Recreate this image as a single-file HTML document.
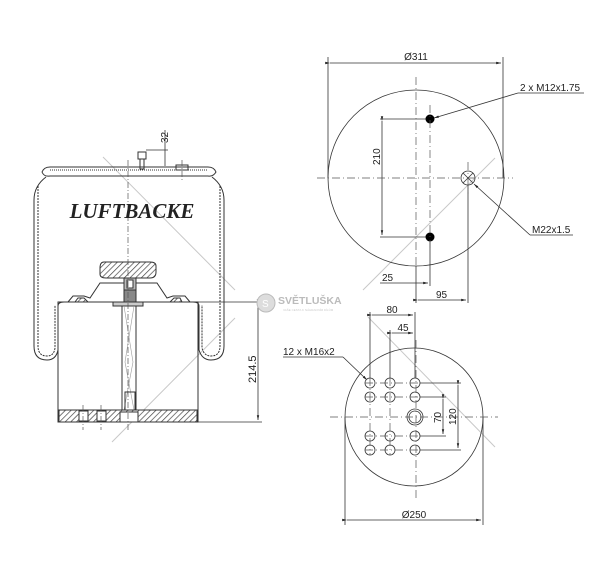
<!DOCTYPE html>
<html><head><meta charset="utf-8"><style>
html,body{margin:0;padding:0;background:#fff;}
svg{display:block;}
text{font-family:"Liberation Sans",sans-serif;fill:#222;}
</style></head><body>
<svg width="600" height="576" viewBox="0 0 600 576" xmlns="http://www.w3.org/2000/svg">
<defs>
<pattern id="h" width="4" height="4" patternUnits="userSpaceOnUse" patternTransform="rotate(45)">
<rect width="4" height="4" fill="#fff"/><line x1="0" y1="0" x2="0" y2="4" stroke="#444" stroke-width="1.4"/></pattern>
<marker id="a" markerWidth="6" markerHeight="6" refX="6" refY="3" orient="auto"><path d="M0,1.5 L6,3 L0,4.5z" fill="#222"/></marker>
</defs>
<!-- gray diagonals -->
<g stroke="#c8c8c8" stroke-width="1">
<line x1="103" y1="157" x2="235" y2="290"/><line x1="235" y1="318" x2="112" y2="442"/>
<line x1="363" y1="290" x2="495" y2="158"/><line x1="368" y1="317" x2="495" y2="447"/>
</g>
<!-- LEFT DRAWING -->
<g fill="none" stroke="#333" stroke-width="1">
<!-- top plate -->
<path d="M42,172 Q44,167 50,167 L208,167 Q214,167 216,172 Q213,177 208,176 L50,176 Q44,177 42,172z"/>
<line x1="50" y1="170" x2="208" y2="170" stroke-dasharray="1 1"/>
<!-- stud -->
<rect x="138" y="152" width="8" height="7"/><rect x="140" y="159" width="4" height="10"/>
<rect x="176" y="165" width="12" height="5"/>
<!-- bellows -->
<path d="M46,177 Q34,186 34,200 L34,346 Q34,360 47,360 Q56,360 58,350 L58,306 Q58,302 64,302 L75,302"/>
<path d="M38,186 L38,346 Q38,356 47,356 Q54,356 55,348 L55,305" stroke-dasharray="2 1"/>
<path d="M212,177 Q224,186 224,200 L224,346 Q224,360 211,360 Q202,360 199,350 L199,306 Q199,302 193,302 L182,302"/>
<path d="M220,186 L220,346 Q220,356 211,356 Q204,356 202,348 L202,305" stroke-dasharray="2 1"/>
<!-- piston -->
<rect x="58" y="302" width="140" height="120"/>
<path d="M68,302 L73,296 L84,296 L90,298 L100,283 L157,283 L167,298 L173,296 L185,296 L190,302"/>
<path d="M75,302 L78,298 L84,298 L88,302z M182,302 L180,298 L174,298 L170,302z" fill="url(#h)"/>
<path d="M104,262 Q100,262 100,268 L100,274 Q100,278 106,278 L150,278 Q156,278 156,272 L156,266 Q156,262 150,262z" fill="url(#h)"/>
<rect x="124" y="278" width="12" height="12" fill="#bbb"/><rect x="127" y="280" width="6" height="8" fill="#fff"/>
<rect x="124" y="290" width="12" height="14" fill="#888"/>
<rect x="113" y="302" width="30" height="4" fill="#ccc"/>
<line x1="122" y1="306" x2="122" y2="412"/><line x1="136" y1="306" x2="136" y2="412"/>
<path d="M124,306 L133,362 L124,410 M134,306 L125,362 L134,410" stroke="#999" stroke-width="0.6"/>
<rect x="125" y="392" width="10" height="18"/>
<rect x="59" y="410" width="138" height="12" fill="url(#h)"/>
<rect x="79" y="411" width="9" height="10" fill="#fff"/><rect x="97" y="411" width="9" height="10" fill="#fff"/>
<rect x="120" y="412" width="18" height="10" fill="#fff"/>
</g>
<g stroke="#555" stroke-width="0.7" stroke-dasharray="6 2 1 2" fill="none">
<line x1="128" y1="160" x2="128" y2="432"/><line x1="182" y1="160" x2="182" y2="180"/>
<line x1="83" y1="405" x2="83" y2="430"/><line x1="101" y1="405" x2="101" y2="430"/>
</g>
<text x="132" y="218" font-family="Liberation Serif,serif" font-weight="bold" font-style="italic" font-size="21" text-anchor="middle" style="font-family:'Liberation Serif',serif" fill="#111">LUFTBACKE</text>
<!-- dims left -->
<g stroke="#333" stroke-width="0.8" fill="none">
<line x1="146" y1="150" x2="168" y2="150"/><line x1="165" y1="130" x2="165" y2="166" />
<line x1="198" y1="302" x2="262" y2="302"/><line x1="198" y1="422" x2="262" y2="422"/>
<line x1="258" y1="304" x2="258" y2="420" marker-start="url(#a)" marker-end="url(#a)"/>
</g>
<text transform="translate(168,143) rotate(-90)" font-size="10">32</text>
<text transform="translate(256,383) rotate(-90)" font-size="11">214.5</text>
<!-- logo -->
<circle cx="266" cy="303" r="9" fill="#ddd" stroke="#bbb"/>
<text x="262" y="307" font-size="10" fill="#fff" style="fill:#fff">S</text>
<text x="278" y="304" font-size="10.5" font-weight="bold" fill="#bbb" style="fill:#bbb">SVĚTLUŠKA</text>
<text x="283" y="311" font-size="3" style="fill:#ccc">VAŠE CESTA K NÁHRADNÍM DÍLŮM</text>
<!-- TOP CIRCLE -->
<g stroke="#333" stroke-width="0.8" fill="none">
<circle cx="416" cy="178" r="88"/>
<line x1="328" y1="57" x2="328" y2="178"/><line x1="503" y1="57" x2="503" y2="178"/>
<line x1="330" y1="63" x2="501" y2="63" marker-start="url(#a)" marker-end="url(#a)"/>
<line x1="380" y1="119" x2="434" y2="119"/><line x1="380" y1="237" x2="434" y2="237"/>
<line x1="382" y1="121" x2="382" y2="235" marker-start="url(#a)" marker-end="url(#a)"/>
<circle cx="468" cy="178" r="7"/><line x1="463" y1="173" x2="473" y2="183"/><line x1="473" y1="173" x2="463" y2="183"/>
<line x1="430" y1="237" x2="430" y2="286"/><line x1="416" y1="266" x2="416" y2="303"/><line x1="468" y1="185" x2="468" y2="303"/>
<line x1="380" y1="283" x2="428" y2="283" marker-end="url(#a)"/>
<line x1="418" y1="300" x2="466" y2="300" marker-start="url(#a)" marker-end="url(#a)"/>
<line x1="584" y1="93" x2="518" y2="93"/><line x1="518" y1="93" x2="434" y2="118" marker-end="url(#a)"/>
<line x1="573" y1="235" x2="530" y2="235"/><line x1="530" y1="235" x2="474" y2="184" marker-end="url(#a)"/>
</g>
<circle cx="430" cy="119" r="4.5" fill="#000"/><circle cx="430" cy="237" r="4.5" fill="#000"/>
<g stroke="#555" stroke-width="0.7" stroke-dasharray="8 3 1 3">
<line x1="317" y1="178" x2="513" y2="178"/><line x1="416" y1="77" x2="416" y2="265"/><line x1="430" y1="105" x2="430" y2="250"/><line x1="468" y1="162" x2="468" y2="194"/>
</g>
<text x="416" y="60" font-size="10" text-anchor="middle">Ø311</text>
<text x="520" y="91" font-size="10">2 x M12x1.75</text>
<text x="532" y="233" font-size="10">M22x1.5</text>
<text transform="translate(380,165) rotate(-90)" font-size="10">210</text>
<text x="382" y="281" font-size="10">25</text>
<text x="436" y="298" font-size="10">95</text>
<!-- BOTTOM CIRCLE -->
<g stroke="#333" stroke-width="0.8" fill="none">
<circle cx="414" cy="417" r="69"/>
<circle cx="415" cy="417" r="8"/><circle cx="415" cy="417" r="6"/>
<line x1="345" y1="417" x2="345" y2="525"/><line x1="483" y1="417" x2="483" y2="525"/>
<line x1="347" y1="520" x2="481" y2="520" marker-start="url(#a)" marker-end="url(#a)"/>
<line x1="370" y1="312" x2="370" y2="383"/><line x1="390" y1="330" x2="390" y2="383"/><line x1="415" y1="312" x2="415" y2="383"/>
<line x1="372" y1="315" x2="413" y2="315" marker-start="url(#a)" marker-end="url(#a)"/>
<line x1="392" y1="333" x2="413" y2="333" marker-start="url(#a)" marker-end="url(#a)"/>
<line x1="420" y1="383" x2="461" y2="383"/><line x1="420" y1="450" x2="461" y2="450"/>
<line x1="420" y1="397" x2="446" y2="397"/><line x1="420" y1="436" x2="446" y2="436"/>
<line x1="443" y1="399" x2="443" y2="434" marker-start="url(#a)" marker-end="url(#a)"/>
<line x1="458" y1="385" x2="458" y2="448" marker-start="url(#a)" marker-end="url(#a)"/>
<line x1="283" y1="357" x2="343" y2="357"/><line x1="343" y1="357" x2="367" y2="380" marker-end="url(#a)"/>
<g fill="#fff">
<circle cx="370" cy="383" r="5"/><circle cx="390" cy="383" r="5"/><circle cx="415" cy="383" r="5"/>
<circle cx="370" cy="397" r="5"/><circle cx="390" cy="397" r="5"/><circle cx="415" cy="397" r="5"/>
<circle cx="370" cy="436" r="5"/><circle cx="390" cy="436" r="5"/><circle cx="415" cy="436" r="5"/>
<circle cx="370" cy="450" r="5"/><circle cx="390" cy="450" r="5"/><circle cx="415" cy="450" r="5"/>
</g>
</g>
<g stroke="#555" stroke-width="0.7" stroke-dasharray="8 3 1 3">
<line x1="330" y1="417" x2="498" y2="417"/><line x1="416" y1="340" x2="416" y2="500"/>
<line x1="365" y1="383" x2="420" y2="383"/><line x1="365" y1="397" x2="420" y2="397"/><line x1="365" y1="436" x2="420" y2="436"/><line x1="365" y1="450" x2="420" y2="450"/>
<line x1="370" y1="378" x2="370" y2="455"/><line x1="390" y1="378" x2="390" y2="455"/>
</g>
<text x="392" y="313" font-size="10" text-anchor="middle">80</text>
<text x="403" y="331" font-size="10" text-anchor="middle">45</text>
<text x="283" y="355" font-size="10">12 x M16x2</text>
<text transform="translate(441,423) rotate(-90)" font-size="10">70</text>
<text transform="translate(456,425) rotate(-90)" font-size="10">120</text>
<text x="414" y="518" font-size="10" text-anchor="middle">Ø250</text>
</svg>
</body></html>
